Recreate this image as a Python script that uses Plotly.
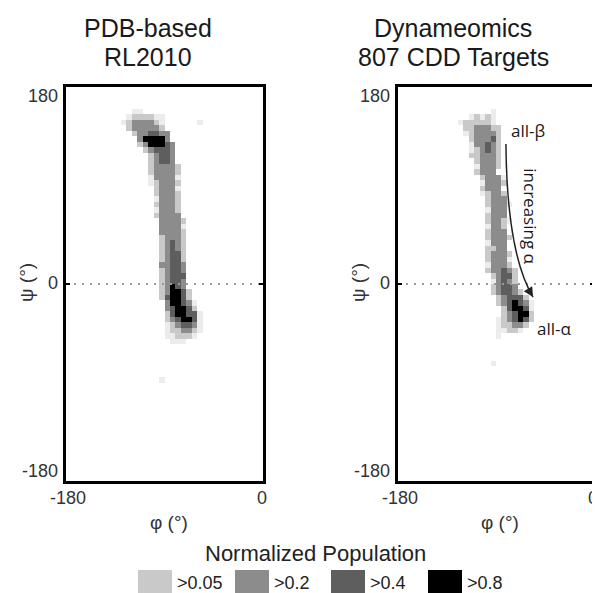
import numpy as np
import plotly.graph_objects as go

# ---------------- data ----------------
BIN = 5  # degrees
phi_centers = np.arange(-180 + BIN / 2, 0, BIN)
psi_centers = np.arange(-180 + BIN / 2, 180, BIN)

# population level codes -> representative normalized population
level_codes = ["1", "2", "3", "4", "5"]
level_values = [0.03, 0.1, 0.3, 0.6, 0.9]

# PDB-based RL2010 : rows (psi lower edge, phi lower edge of first cell, codes per 5 deg cell)
rl_psi = [155, 150, 145, 140, 135, 130, 125, 120, 115, 110, 105, 100, 95, 90, 85, 80, 75, 70,
          65, 60, 55, 50, 45, 40, 35, 30, 25, 20, 15, 10, 5, 0, -5, -10, -15, -20, -25, -30,
          -35, -40, -45, -50, -55, -90, 145]
rl_phi0 = [-120, -125, -130, -125, -120, -115, -115, -110, -105, -105, -105, -105, -105, -105,
           -100, -100, -100, -100, -100, -100, -95, -95, -95, -95, -95, -95, -95, -95, -95, -95,
           -95, -95, -95, -95, -95, -90, -90, -90, -90, -90, -90, -90, -85, -95, -60]
rl_codes = ["11", "1222211", "12333321", "2333332", "2334433", "355553", "2355543", "234443",
            "23443", "23443", "233332", "233332", "133331", "123332", "23331", "23332", "13332",
            "23332", "13332", "23333", "33332", "33331", "33332", "23332", "23432", "23432",
            "23442", "23442", "33443", "23443", "23444", "23443", "23543", "235542", "245542",
            "355431", "345542", "2455441", "2345541", "1234431", "1223321", "112221", "111",
            "1", "1"]

# Dynameomics 807 CDD targets
dy_psi = [155, 150, 145, 140, 135, 130, 125, 120, 115, 110, 105, 100, 95, 90, 85, 80, 75, 70,
          65, 60, 55, 50, 45, 40, 35, 30, 25, 20, 15, 10, 5, 0, -5, -10, -15, -20, -25, -30,
          -35, -40, -45, -50, -75]
dy_phi0 = [-95, -115, -125, -120, -120, -115, -115, -115, -115, -110, -110, -110, -105, -105,
           -105, -105, -100, -100, -100, -100, -100, -100, -100, -100, -100, -100, -100, -100,
           -100, -100, -95, -95, -95, -95, -90, -90, -85, -85, -90, -90, -90, -90, -95]
dy_codes = ["1", "12121", "1222221", "2233322", "1233332", "233342", "133432", "123432",
            "223332", "23332", "13332", "2333", "23331", "13332", "2333", "12332", "2333",
            "23331", "1333", "2333", "23321", "1332", "2333", "23332", "1333", "2233", "23332",
            "23331", "13332", "233432", "23442", "13432", "23443", "234432", "234442",
            "2345431", "245541", "234552", "1234542", "122332", "11221", "1", "1"]

legend_labels = [">0.05", ">0.2", ">0.4", ">0.8"]
legend_colors = ["#c9c9c9", "#8c8c8c", "#5e5e5e", "#000000"]
faint_color = "#ececec"

titles = [["PDB-based", "RL2010"], ["Dynameomics", "807 CDD Targets"]]


def build_grid(psis, phi0s, codes):
    z = np.full((len(psi_centers), len(phi_centers)), np.nan)
    for psi_lo, phi_lo, row in zip(psis, phi0s, codes):
        iy = int(round((psi_lo + 180) / BIN))
        for k, c in enumerate(row):
            if c == "0":
                continue
            ix = int(round((phi_lo + 180) / BIN)) + k
            if 0 <= ix < len(phi_centers) and 0 <= iy < len(psi_centers):
                z[iy, ix] = level_values[level_codes.index(c)]
    return z


z_rl = build_grid(rl_psi, rl_phi0, rl_codes)
z_dy = build_grid(dy_psi, dy_phi0, dy_codes)

colorscale = [
    [0.0, faint_color], [0.05, faint_color],
    [0.05, legend_colors[0]], [0.2, legend_colors[0]],
    [0.2, legend_colors[1]], [0.4, legend_colors[1]],
    [0.4, legend_colors[2]], [0.8, legend_colors[2]],
    [0.8, legend_colors[3]], [1.0, legend_colors[3]],
]

W, H = 600, 593


def px(x):
    return x / W


def py(y):
    return 1 - y / H


fig = go.Figure()
for z, xa, ya in [(z_rl, "x", "y"), (z_dy, "x2", "y2")]:
    fig.add_trace(go.Heatmap(
        x=phi_centers, y=psi_centers, z=z, xaxis=xa, yaxis=ya,
        colorscale=colorscale, zmin=0, zmax=1, showscale=False,
        hoverongaps=False,
    ))

# panel frames in pixels
panels = [dict(l=58, r=255), dict(l=390, r=586)]
top, bottom = 79, 473

axis_common = dict(showgrid=False, zeroline=False, showline=True, linewidth=3,
                   linecolor="black", mirror=True, showticklabels=False, ticks="")
fig.update_layout(
    width=W, height=H, margin=dict(l=0, r=0, t=0, b=0),
    plot_bgcolor="white", paper_bgcolor="white",
    font=dict(family="Liberation Sans, Arial, sans-serif", color="#222"),
    showlegend=False,
    xaxis=dict(domain=[px(58), px(255)], range=[-180, 0], **axis_common),
    yaxis=dict(domain=[py(bottom), py(top)], range=[-180, 180], **axis_common),
    xaxis2=dict(domain=[px(390), px(586)], range=[-180, 0], anchor="y2", **axis_common),
    yaxis2=dict(domain=[py(bottom), py(top)], range=[-180, 180], anchor="x2", **axis_common),
)

shapes = []
annots = []
tick_font = dict(size=18, color="#333")


def note(text, x, y, xanchor="center", yanchor="middle", **kw):
    d = dict(text=text, x=x, y=y, xref="paper", yref="paper", xanchor=xanchor,
             yanchor=yanchor, showarrow=False)
    d.update(kw)
    annots.append(d)


for i, p in enumerate(panels):
    xr = "x" if i == 0 else "x2"
    yr = "y" if i == 0 else "y2"
    # dotted zero line
    shapes.append(dict(type="line", xref=xr, yref=yr, x0=-180, x1=0, y0=0, y1=0,
                       line=dict(color="#9a9a9a", width=2, dash="2px,6px")))
    # small tick marks at psi = 0 on both sides
    for xe, d in [(p["l"], 4), (p["r"], -4)]:
        shapes.append(dict(type="line", xref="paper", yref=yr, x0=px(xe), x1=px(xe + d),
                           y0=0, y1=0, line=dict(color="black", width=2)))
    # y tick labels
    for txt, yy in [("180", 88), ("0", 275), ("-180", 463)]:
        note(txt, px(p["l"] - 6), py(yy), xanchor="right", font=tick_font)
    # x tick labels
    for txt, xx in [("-180", p["l"] + 2), ("0", p["r"] - 1)]:
        note(txt, px(xx), py(490), font=tick_font)
    # axis titles
    note("φ (°)", px((p["l"] + p["r"]) / 2 + 4), py(514), font=dict(size=19, color="#333"))
    note("ψ (°)", px(p["l"] - 40), py(275), textangle=-90, font=dict(size=19, color="#333"))

# titles
title_x = [140, 445]
for i, (l1, l2) in enumerate(titles):
    for txt, yy in [(l1, 20), (l2, 49)]:
        note(txt, px(title_x[i]), py(yy), font=dict(size=25, color="#1a1a1a"))

# right-panel annotations
ann_font = dict(family="Open Sans, Noto Sans, sans-serif", size=17, color="#1a1a1a")
annots.append(dict(text="all-β", x=-60.5, y=140, xref="x2", yref="y2", showarrow=False,
                   xanchor="center", yanchor="middle", font=ann_font))
annots.append(dict(text="all-α", x=-36, y=-41, xref="x2", yref="y2", showarrow=False,
                   xanchor="center", yanchor="middle", font=ann_font))
annots.append(dict(text="increasing α", x=-58, y=62, xref="x2", yref="y2", showarrow=False,
                   xanchor="center", yanchor="middle", textangle=90, font=ann_font))
# curved arrow
p0, p1, p2 = (-80.9, 127.9), (-80.0, 28.0), (-56.0, -11.9)
shapes.append(dict(type="path", xref="x2", yref="y2",
                   path=f"M {p0[0]},{p0[1]} Q {p1[0]},{p1[1]} {p2[0]},{p2[1]}",
                   line=dict(color="#222", width=1.5)))
tx, ty = p2[0] - p1[0], p2[1] - p1[1]
annots.append(dict(text="", x=p2[0], y=p2[1], ax=p2[0] - tx * 0.12, ay=p2[1] - ty * 0.12,
                   xref="x2", yref="y2", axref="x2", ayref="y2", showarrow=True,
                   arrowhead=2, arrowsize=1.3, arrowwidth=1.5, arrowcolor="#222"))

# legend
note("Normalized Population", px(307), py(545), font=dict(size=22, color="#222"))
box_x = [130, 227, 323, 420]
for lbl, col, bx in zip(legend_labels, legend_colors, box_x):
    shapes.append(dict(type="rect", xref="paper", yref="paper", x0=px(bx), x1=px(bx + 34),
                       y0=py(590), y1=py(562), fillcolor=col, line=dict(width=0)))
    note(lbl, px(bx + 37), py(575), xanchor="left", font=dict(size=18, color="#222"))

fig.update_layout(shapes=shapes, annotations=annots)
fig.write_html("out.html")
